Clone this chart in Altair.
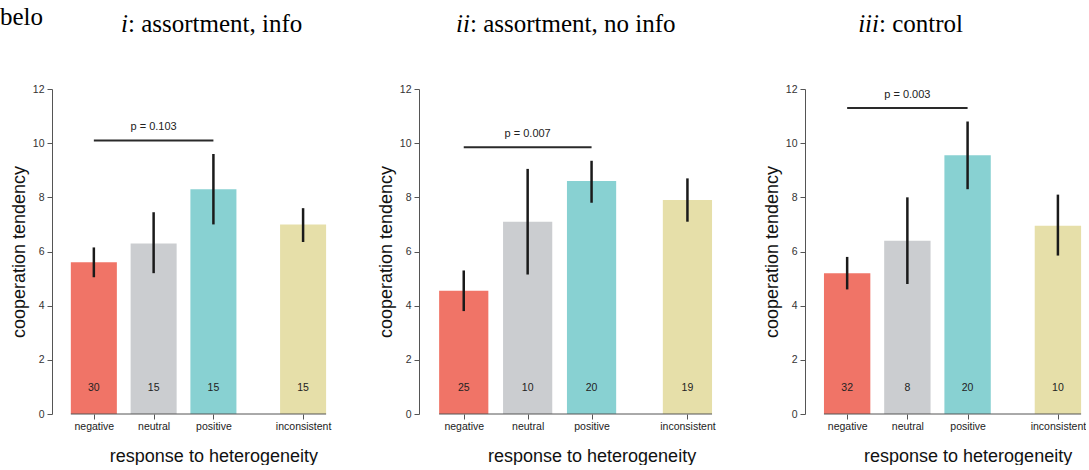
import altair as alt
import pandas as pd

# ---------------- data ----------------
categories = ["negative", "neutral", "positive", "inconsistent"]
bar_colors = ["#F07467", "#CBCDD0", "#88D1D2", "#E6DFA9"]

title_prefix = ["i", "ii", "iii"]
title_rest = [": assortment, info", ": assortment, no info", ": control"]

means_i = [5.6, 6.3, 8.3, 7.0]
lo_i = [5.05, 5.2, 7.0, 6.35]
hi_i = [6.15, 7.45, 9.6, 7.6]
n_i = [30, 15, 15, 15]

means_ii = [4.55, 7.1, 8.6, 7.9]
lo_ii = [3.8, 5.15, 7.8, 7.1]
hi_ii = [5.3, 9.05, 9.35, 8.7]
n_ii = [25, 10, 20, 19]

means_iii = [5.2, 6.4, 9.55, 6.95]
lo_iii = [4.6, 4.8, 8.3, 5.85]
hi_iii = [5.8, 8.0, 10.8, 8.1]
n_iii = [32, 8, 20, 10]

p_labels = ["p = 0.103", "p = 0.007", "p = 0.003"]
p_heights = [10.1, 9.85, 11.3]

y_ticks = [0, 2, 4, 6, 8, 10, 12]

# ---------------- layout settings ----------------
GAP = 0.5          # extra space before "inconsistent" (R barplot space)
HALF = 0.385       # half bar width in slot units
X_DOMAIN = [0.3, 4.9]
H = 325
WIDTHS = [275, 294, 277]
TITLE_X = [76, 51, 74]
SANS = "Liberation Sans"
SERIF = "Liberation Serif"


def slot_positions():
    return [i + 1 + (GAP if c == "inconsistent" else 0) for i, c in enumerate(categories)]


def panel(idx, means, lo, hi, n, width):
    pos = slot_positions()
    df = pd.DataFrame({"cat": categories, "mean": means, "lo": lo, "hi": hi,
                       "n": n, "pos": pos})
    base = alt.Chart(df)
    xscale = alt.Scale(domain=X_DOMAIN, nice=False, zero=False)
    yscale = alt.Scale(domain=[0, 12], nice=False)

    label_expr = ""
    for p, c in zip(pos[:-1], categories[:-1]):
        label_expr += f"datum.value == {p} ? '{c}' : "
    label_expr += f"'{categories[-1]}'"

    title_x = (pos[2] - X_DOMAIN[0]) / (X_DOMAIN[1] - X_DOMAIN[0]) * width

    xaxis = alt.Axis(values=pos, labelExpr=label_expr, domain=False, grid=False,
                     ticks=True, tickSize=5, tickColor="#555", tickWidth=1,
                     labelFont=SANS, labelFontSize=10.5, labelColor="#222",
                     labelPadding=2, title="response to heterogeneity",
                     titleFont=SANS, titleFontSize=18, titleFontWeight="normal",
                     titleColor="#111", titleX=title_x, titleY=47,
                     titleBaseline="alphabetic", titleAlign="center")
    yaxis = alt.Axis(values=y_ticks, domain=True, domainColor="#555", grid=False,
                     tickColor="#555", tickSize=5, labelPadding=3,
                     labelFont=SANS, labelFontSize=10.5, labelColor="#333",
                     title="cooperation tendency", titleFont=SANS, titleFontSize=18,
                     titleFontWeight="normal", titleColor="#111", titlePadding=4)

    bars = base.transform_calculate(
        x1=f"datum.pos - {HALF}", x2=f"datum.pos + {HALF}"
    ).mark_bar().encode(
        x=alt.X("x1:Q", scale=xscale, axis=xaxis),
        x2="x2:Q",
        y=alt.Y("mean:Q", scale=yscale, axis=yaxis),
        y2=alt.datum(0),
        color=alt.Color("cat:N", scale=alt.Scale(domain=categories, range=bar_colors),
                        legend=None),
    )

    baseline = base.transform_calculate(
        x1=f"datum.pos - {HALF}", x2=f"datum.pos + {HALF}"
    ).transform_aggregate(l="min(x1)", r="max(x2)").mark_rule(
        color="#555", strokeWidth=1
    ).encode(x="l:Q", x2="r:Q", y=alt.datum(0))

    errs = base.mark_rule(color="#1a1a1a", strokeWidth=2.5).encode(
        x="pos:Q", y="lo:Q", y2="hi:Q")

    counts = base.mark_text(font=SANS, fontSize=10.5, color="#222",
                            baseline="middle").encode(
        x="pos:Q", y=alt.value(H - 26), text="n:Q")

    pdf = pd.DataFrame({"x1": [pos[0]], "x2": [pos[2]],
                        "xm": [(pos[0] + pos[2]) / 2],
                        "y": [p_heights[idx]], "label": [p_labels[idx]]})
    pline = alt.Chart(pdf).mark_rule(color="#2a2a2a", strokeWidth=2).encode(
        x="x1:Q", x2="x2:Q", y="y:Q")
    ptext = alt.Chart(pdf).mark_text(font=SANS, fontSize=11, color="#222",
                                     baseline="middle", dy=-13).encode(
        x="xm:Q", y="y:Q", text="label:N")

    tdf = pd.DataFrame({"a": [title_prefix[idx]], "b": [title_rest[idx]]})
    t1 = alt.Chart(tdf).mark_text(font=SERIF, fontSize=25, fontStyle="italic",
                                  align="right", baseline="alphabetic",
                                  color="#000").encode(
        x=alt.value(TITLE_X[idx]), y=alt.value(-57), text="a:N")
    t2 = alt.Chart(tdf).mark_text(font=SERIF, fontSize=25, align="left",
                                  baseline="alphabetic", color="#000").encode(
        x=alt.value(TITLE_X[idx]), y=alt.value(-57), text="b:N")

    layers = [bars, baseline, errs, counts, pline, ptext, t1, t2]
    if idx == 0:
        bdf = pd.DataFrame({"t": ["belo"]})
        belo = alt.Chart(bdf).mark_text(font=SERIF, fontSize=25, align="left",
                                        baseline="alphabetic", color="#000").encode(
            x=alt.value(-52), y=alt.value(-64), text="t:N")
        layers.append(belo)
    return alt.layer(*layers).properties(width=width, height=H)


p1 = panel(0, means_i, lo_i, hi_i, n_i, WIDTHS[0])
p2 = panel(1, means_ii, lo_ii, hi_ii, n_ii, WIDTHS[1])
p3 = panel(2, means_iii, lo_iii, hi_iii, n_iii, WIDTHS[2])

chart = alt.hconcat(p1, p2, p3, spacing=92, bounds="flush").properties(
    padding={"left": 0, "top": 5, "right": 0, "bottom": 0},
    background="white",
).configure_view(stroke=None)

chart.save("out.html", embed_options={"renderer": "svg", "actions": False})
